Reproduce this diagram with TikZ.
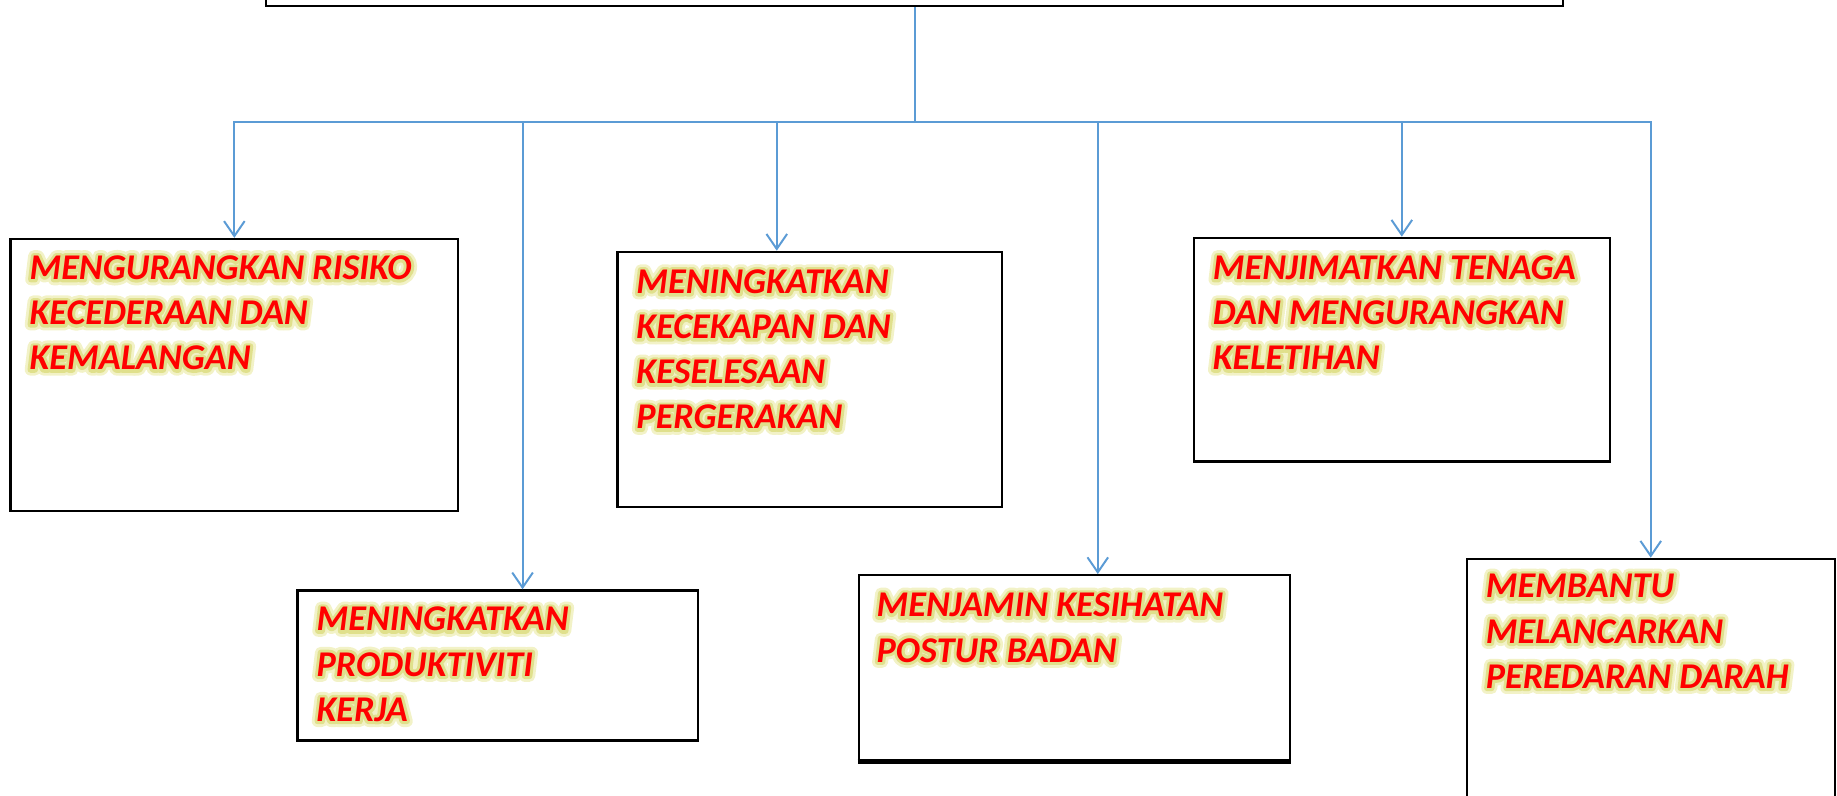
\documentclass[tikz,border=0pt]{standalone}
\usepackage{fontspec}
\setmainfont{Carlito}
\usetikzlibrary{arrows.meta}
\definecolor{linkblue}{RGB}{91,155,213}
% soft yellow halo drawn as stroked copies under the red text
\newcommand{\glow}[1]{\leavevmode\rlap{\special{pdf:literal direct 1 Tr 7 w 1 j 1 J 0.95 0.95 0.78 RG}#1\special{pdf:literal direct 0 Tr}}\rlap{\special{pdf:literal direct 1 Tr 3.6 w 1 j 1 J 0.88 0.88 0.55 RG}#1\special{pdf:literal direct 0 Tr 1 w 0 J 0 j 0 0 0 RG}}#1}
\tikzset{
  box/.style={draw=black,line width=1.4pt,anchor=north west,inner sep=0pt},
  link/.style={draw=linkblue,line width=1.2pt,->},
  lbl/.style={anchor=north west,align=left,text=red,inner sep=0pt,
    font=\fontsize{22}{27.4}\selectfont\bfseries\itshape}
}
\begin{document}
\begin{tikzpicture}[x=0.025cm,y=-0.025cm,>={Straight Barb[length=3.2mm,width=4.4mm]}]
		\useasboundingbox (0,0) rectangle (1568,679);
		\clip (0,0) rectangle (1568,679);
		% boxes
		\node[box,anchor=south west,minimum width=27.675cm,minimum height=2cm] (top) at (226,6) {};
		\node[box,minimum width=9.55cm,minimum height=5.8cm] (b1) at (8,203) {};
		\node[box,minimum width=8.55cm,minimum height=3.2cm] (b2) at (253,503) {};
		\node[box,minimum width=8.2cm,minimum height=5.45cm] (b3) at (526,214) {};
		\node[box,minimum width=8.875cm,minimum height=4.775cm] (b4) at (1018,202) {};
		\node[box,minimum width=9.2cm,minimum height=3.95cm] (b5) at (732,490) {};
		\node[box,minimum width=7.85cm,minimum height=6cm] (b6) at (1251,476) {};
		\draw[line width=3pt] (b5.south west) -- (b5.south east);
		% connectors
		\coordinate (bus) at (top.south |- 0,104);
		\draw[link,-] (top.south) -- (bus);
		\draw[link] (bus) -| (b1.north);
		\draw[link] (bus) -| ([xshift=0.525cm]b2.north);
		\draw[link] (bus) -| ([xshift=-0.7cm]b3.north);
		\draw[link] (bus) -| ([xshift=0.5cm]b5.north);
		\draw[link] (bus) -| (b4.north);
		\draw[link] (bus) -| (b6.north);
		% texts
		\node[lbl] (t1) at ([shift={(17,15)}]b1.north west) {\glow{MENGURANGKAN RISIKO}\\\glow{KECEDERAAN DAN}\\\glow{KEMALANGAN}};
		\node[lbl] (t2) at ([shift={(17,15)}]b2.north west) {\glow{MENINGKATKAN}\\\glow{PRODUKTIVITI}\\\glow{KERJA}};
		\node[lbl] (t3) at ([shift={(17,16)}]b3.north west) {\glow{MENINGKATKAN}\\\glow{KECEKAPAN DAN}\\\glow{KESELESAAN}\\\glow{PERGERAKAN}};
		\node[lbl] (t4) at ([shift={(17,16)}]b4.north west) {\glow{MENJIMATKAN TENAGA}\\\glow{DAN MENGURANGKAN}\\\glow{KELETIHAN}};
		\node[lbl] (t5) at ([shift={(16,16)}]b5.north west) {\glow{MENJAMIN KESIHATAN}\\\glow{POSTUR BADAN}};
		\node[lbl] (t6) at ([shift={(17,14)}]b6.north west) {\glow{MEMBANTU}\\\glow{MELANCARKAN}\\\glow{PEREDARAN DARAH}};
		\end{tikzpicture}
\end{document}
